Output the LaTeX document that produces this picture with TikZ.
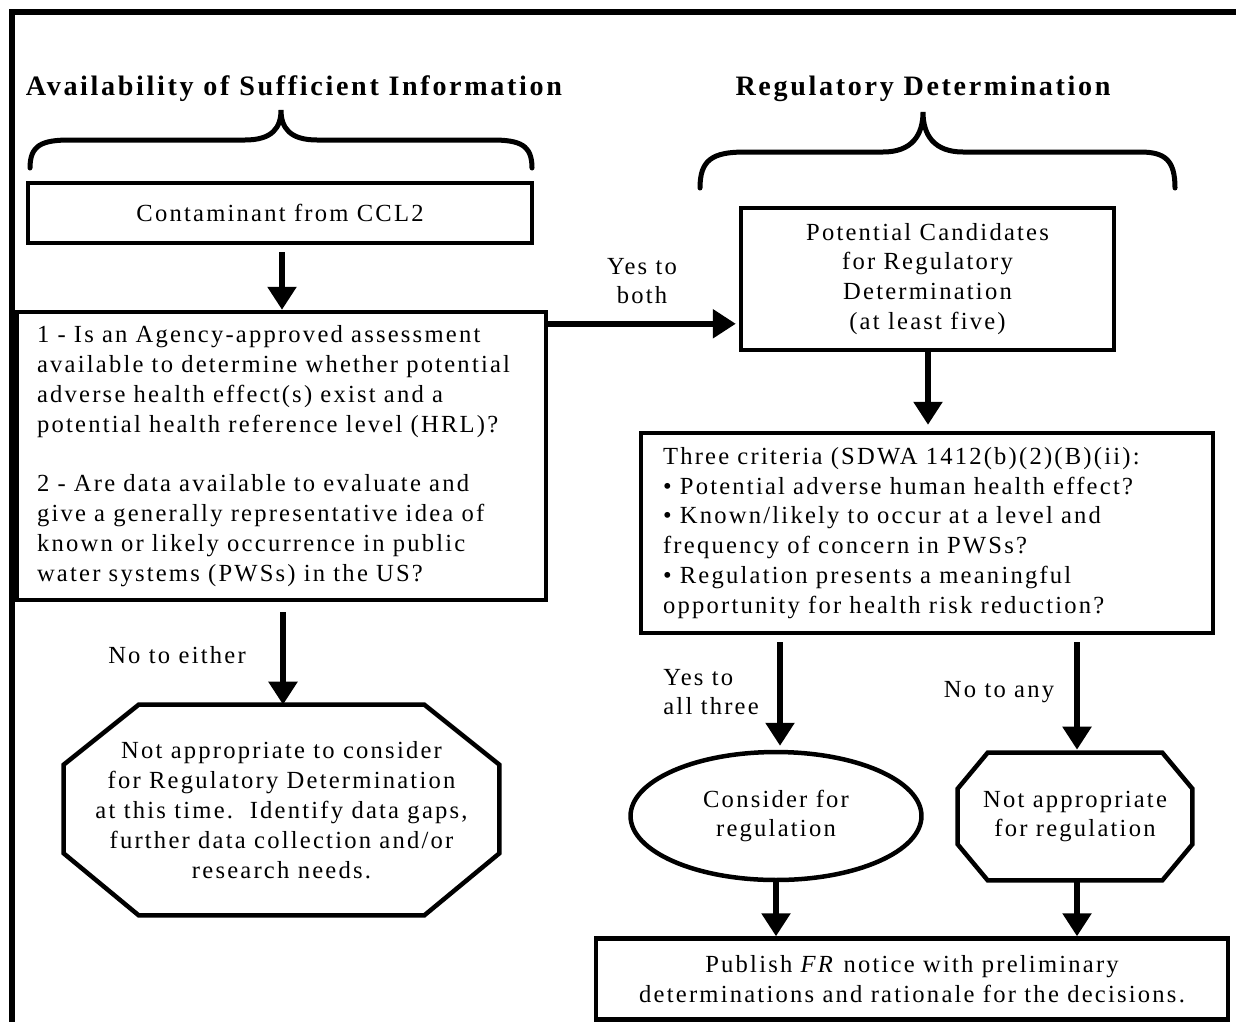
\documentclass[tikz,border=0pt]{standalone}
\usepackage{fontspec}
\setmainfont{Liberation Serif}[LetterSpace=9]
\usetikzlibrary{arrows.meta, positioning, calc, shapes.geometric}

\begin{document}
\begin{tikzpicture}[
        x=0.02cm, y=-0.02cm,
        font=\fontsize{14}{17}\selectfont,
        box/.style={draw, line width=0.09cm, rectangle, align=center, inner sep=0pt},
        oval/.style={draw, line width=0.09cm, ellipse, align=center, inner sep=0pt},
        plain/.style={align=center, inner sep=0pt},
        hdr/.style={font=\fontsize{16}{19}\selectfont\bfseries\addfontfeatures{LetterSpace=9.5}, inner sep=0pt},
        brace/.style={line width=0.1cm, line cap=round},
        octo/.style={line width=0.09cm, line join=miter},
        >={Triangle[length=0.46cm, width=0.56cm]},
        arr/.style={->, line width=0.11cm}
    ]
    \useasboundingbox (0,0) rectangle (1236,1021);

    % frame
    \draw[line width=0.12cm] (12,1040) -- (12,12) -- (1250,12);

    % headings and braces
    \node[hdr] (H1) at (294,89) {Availability of Sufficient Information};
    \node[hdr] (H2) at (923,89) {Regulatory Determination};

    \draw[brace] (30,168) .. controls (30,145) and (42,140) .. (70,140) -- (245,140)
        .. controls (272,140) and (281,128) .. (281,110)
        .. controls (281,128) and (290,140) .. (317,140) -- (492,140)
        .. controls (520,140) and (532,145) .. (532,168);
    \draw[brace] (700,188) .. controls (700,160) and (712,152) .. (745,152) -- (883,152)
        .. controls (912,152) and (923,135) .. (923,112)
        .. controls (923,135) and (934,152) .. (963,152) -- (1140,152)
        .. controls (1165,152) and (1175,160) .. (1175,188);

    % left column
    \node[box, minimum width=10.08cm, minimum height=1.2cm] (contam) at (280,213) {Contaminant from CCL2};
    \node[box, minimum width=10.58cm, minimum height=5.76cm, text width=9.78cm, align=left] (quest) at (281.5,456)
        {1 - Is an Agency-approved assessment\\
         available to determine whether potential\\
         adverse health effect(s) exist and a\\
         potential health reference level (HRL)?\\[17pt]
         2 - Are data available to evaluate and\\
         give a generally representative idea of\\
         known or likely occurrence in public\\
         water systems (PWSs) in the US?};
    \node[plain, minimum width=8.7cm, minimum height=4.2cm] (notcons) at (281.5,810)
        {Not appropriate to consider\\
         for Regulatory Determination\\
         at this time.\ \ Identify data gaps,\\
         further data collection and/or\\
         research needs.};
    \draw[octo] ([xshift=1.5cm]notcons.north west) -- ([xshift=-1.5cm]notcons.north east)
        -- ([yshift=-1.2cm]notcons.north east) -- ([yshift=1.24cm]notcons.south east)
        -- ([xshift=-1.5cm]notcons.south east) -- ([xshift=1.5cm]notcons.south west)
        -- ([yshift=1.24cm]notcons.south west) -- ([yshift=-1.2cm]notcons.north west) -- cycle;
    \node[plain] (noeither) at (177,655) {No to either};

    % right column
    \node[box, minimum width=7.46cm, minimum height=2.84cm] (cand) at (927.5,279)
        {Potential Candidates\\for Regulatory\\Determination\\ (at least five)};
    \node[plain] (yesboth) at (642,281) {Yes to\\both};
    \node[box, minimum width=11.44cm, minimum height=4cm, text width=10.56cm, align=left] (crit) at (927,533)
        {Three criteria (SDWA 1412(b)(2)(B)(ii):\\
         • Potential adverse human health effect?\\
         • Known/likely to occur at a level and\\
         frequency of concern in PWSs?\\
         • Regulation presents a meaningful\\
         opportunity for health risk reduction?};
    \node[oval, minimum width=5.82cm, minimum height=2.56cm] (consider) at (776,816) {Consider for\\regulation};
    \node[plain, minimum width=4.68cm, minimum height=2.54cm] (notreg) at (1075,816.5) {Not appropriate\\for regulation};
    \draw[octo] ([xshift=0.6cm]notreg.north west) -- ([xshift=-0.6cm]notreg.north east)
        -- ([yshift=-0.72cm]notreg.north east) -- ([yshift=0.72cm]notreg.south east)
        -- ([xshift=-0.6cm]notreg.south east) -- ([xshift=0.6cm]notreg.south west)
        -- ([yshift=0.72cm]notreg.south west) -- ([yshift=-0.72cm]notreg.north west) -- cycle;
    \node[plain, anchor=west, align=left] (yesall) at (663,692) {Yes to\\all three};
    \node[plain] (noany) at (999,692) {No to any};
    \node[box, minimum width=12.64cm, minimum height=1.62cm] (publish) at (912,979)
        {Publish \textit{FR} notice with preliminary\\determinations and rationale for the decisions.};

    % edges
    \draw[arr, shorten <=0.14cm] (contam.south -| 282,0) -- (quest.north -| 282,0);
    \draw[arr, shorten >=0.06cm] ([yshift=-0.28cm]quest.north east) -- ([yshift=-0.28cm]quest.north east -| cand.west);
    \draw[arr, shorten >=0.12cm] (cand.south -| 928,0) -- (crit.north -| 928,0);
    \draw[arr, shorten <=0.2cm] (quest.south -| 283,0) -- (notcons.north -| 283,0);
    \draw[arr, shorten <=0.14cm, shorten >=0.08cm] (crit.south -| 780,0) -- (consider.north -| 780,0);
    \draw[arr, shorten <=0.14cm, shorten >=0.06cm] (crit.south -| 1077,0) -- (notreg.north -| 1077,0);
    \draw[arr] (consider.south) -- (consider.south |- publish.north);
    \draw[arr] (notreg.south -| 1077,0) -- (publish.north -| 1077,0);
\end{tikzpicture}
\end{document}
